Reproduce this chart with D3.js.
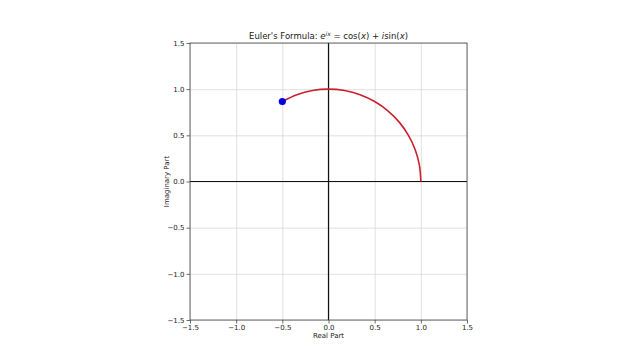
<!DOCTYPE html>
<html>
<head>
<meta charset="utf-8">
<script src="https://cdn.jsdelivr.net/npm/d3@7"></script>
<style>
  body { margin: 0; background: #fff; }
  svg text { font-family: "DejaVu Sans", sans-serif; fill: #222; }
</style>
</head>
<body>
<div id="chart"></div>
<script>
// points along the unit circle (0 to ~120 degrees)
const realPart = [1.000, 0.985, 0.940, 0.866, 0.766, 0.643, 0.500, 0.342, 0.174, 0.000, -0.174, -0.342, -0.500];
const imagPart = [0.000, 0.174, 0.342, 0.500, 0.643, 0.766, 0.866, 0.940, 0.985, 1.000, 0.985, 0.940, 0.866];
const endPoint = { re: -0.500, im: 0.866 };
const tickValues = [-1.5, -1.0, -0.5, 0.0, 0.5, 1.0, 1.5];

const width = 641, height = 360;
const margin = { top: 43, left: 190, right: 174, bottom: 40 };
const innerW = width - margin.left - margin.right;
const innerH = height - margin.top - margin.bottom;

const svg = d3.select('#chart').append('svg')
  .attr('width', width)
  .attr('height', height);

const g = svg.append('g')
  .attr('transform', `translate(${margin.left},${margin.top})`);

const x = d3.scaleLinear().domain([-1.5, 1.5]).range([0, innerW]);
const y = d3.scaleLinear().domain([-1.5, 1.5]).range([innerH, 0]);

const fmt = d => d3.format('.1f')(d).replace('-', '\u2212');

// grid
g.append('g')
  .attr('transform', `translate(0,${innerH})`)
  .call(d3.axisBottom(x).tickValues(tickValues).tickSize(-innerH).tickFormat(''))
  .call(s => s.select('.domain').remove())
  .call(s => s.selectAll('line').attr('stroke', '#d8d8d8').attr('stroke-width', 0.8));
g.append('g')
  .call(d3.axisLeft(y).tickValues(tickValues).tickSize(-innerW).tickFormat(''))
  .call(s => s.select('.domain').remove())
  .call(s => s.selectAll('line').attr('stroke', '#d8d8d8').attr('stroke-width', 0.8));

// zero lines
g.append('line')
  .attr('x1', 0).attr('x2', innerW)
  .attr('y1', y(0)).attr('y2', y(0))
  .attr('stroke', '#111').attr('stroke-width', 1.2);
g.append('line')
  .attr('x1', x(0)).attr('x2', x(0))
  .attr('y1', 0).attr('y2', innerH)
  .attr('stroke', '#111').attr('stroke-width', 1.2);

// axes
const xAxis = g.append('g')
  .attr('transform', `translate(0,${innerH})`)
  .call(d3.axisBottom(x).tickValues(tickValues).tickSize(3.5).tickPadding(2).tickFormat(fmt));
const yAxis = g.append('g')
  .call(d3.axisLeft(y).tickValues(tickValues).tickSize(3.5).tickPadding(2).tickFormat(fmt));
[xAxis, yAxis].forEach(a => {
  a.select('.domain').remove();
  a.selectAll('line').attr('stroke', '#444').attr('stroke-width', 0.8);
  a.selectAll('text').style('font-size', '7px').attr('fill', '#222');
});

// frame
g.append('rect')
  .attr('width', innerW).attr('height', innerH)
  .attr('fill', 'none').attr('stroke', '#444').attr('stroke-width', 0.8);

// arc
const pts = realPart.map((re, i) => ({ re, im: imagPart[i] }));
g.append('path')
  .datum(pts)
  .attr('fill', 'none')
  .attr('stroke', '#cc1f2c')
  .attr('stroke-width', 1.6)
  .attr('d', d3.line().x(d => x(d.re)).y(d => y(d.im)).curve(d3.curveCatmullRom));

g.append('circle')
  .attr('cx', x(endPoint.re)).attr('cy', y(endPoint.im))
  .attr('r', 3.6)
  .attr('fill', '#0000e0');

// labels
g.append('text')
  .attr('x', innerW / 2).attr('y', innerH + 18)
  .attr('text-anchor', 'middle')
  .style('font-size', '7px')
  .text('Real Part');
g.append('text')
  .attr('transform', `translate(-21,${innerH / 2}) rotate(-90)`)
  .attr('text-anchor', 'middle')
  .style('font-size', '7px')
  .text('Imaginary Part');

const title = g.append('text')
  .attr('x', innerW / 2).attr('y', -4)
  .attr('text-anchor', 'middle')
  .style('font-size', '8.5px');
title.append('tspan').text("Euler's Formula: ");
title.append('tspan').style('font-style', 'italic').text('e');
title.append('tspan').attr('dy', -3).style('font-size', '6px').style('font-style', 'italic').text('ix');
title.append('tspan').attr('dy', 3).text(' = cos(');
title.append('tspan').style('font-style', 'italic').text('x');
title.append('tspan').text(') + ');
title.append('tspan').style('font-style', 'italic').text('i');
title.append('tspan').text('sin(');
title.append('tspan').style('font-style', 'italic').text('x');
title.append('tspan').text(')');
</script>
</body>
</html>
